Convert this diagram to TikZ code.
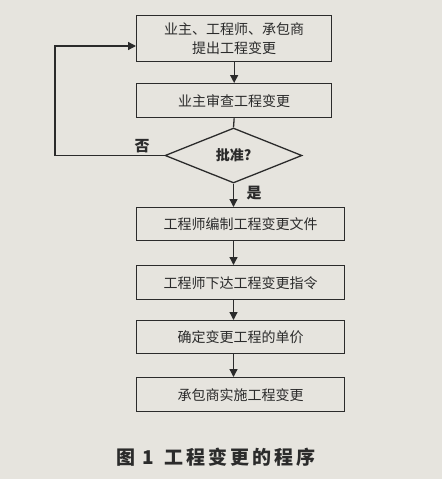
\documentclass[tikz,border=0pt]{standalone}
\usepackage{fontspec}
\newfontfamily\cjk{Noto Sans CJK SC}
\newfontfamily\cjkcap[LetterSpace=16]{Noto Sans CJK SC}
\usetikzlibrary{arrows.meta,shapes.geometric}
\definecolor{paper}{HTML}{E6E4DE}
\definecolor{ink}{HTML}{2B2B2B}
\tikzset{
  stepbox/.style={draw=ink,line width=1.3pt,fill=paper,anchor=north west,inner sep=0pt,align=center,font=\cjk\fontsize{14}{19}\selectfont,text=ink},
  flow/.style={draw=ink,line width=1.3pt,-{Triangle[length=8pt,width=8pt]}},
  lbl/.style={font=\cjk\bfseries\fontsize{15}{17}\selectfont,text=ink}
}
\begin{document}
\begin{tikzpicture}[x=1pt,y=-1pt]
\useasboundingbox[fill=paper] (0,0) rectangle (442,479);
\node[stepbox,minimum width=195pt,minimum height=46pt] (b1) at (136,15) {业主、工程师、承包商\\提出工程变更};
\node[stepbox,minimum width=195pt,minimum height=34pt] (b2) at (136,83) {业主审查工程变更};
\node[draw=ink,line width=1.3pt,fill=paper,diamond,aspect=2.5,minimum width=137pt,minimum height=55pt,inner sep=0pt,font=\cjk\bfseries\fontsize{14}{16}\selectfont,text=ink] (d) at (233.5,155.5) {批准?};
\node[stepbox,minimum width=208pt,minimum height=33pt] (b3) at (136,207) {工程师编制工程变更文件};
\node[stepbox,minimum width=208pt,minimum height=34pt] (b4) at (136,265) {工程师下达工程变更指令};
\node[stepbox,minimum width=208pt,minimum height=33pt] (b5) at (136,320) {确定变更工程的单价};
\node[stepbox,minimum width=208pt,minimum height=34pt] (b6) at (136,377) {承包商实施工程变更};
\draw[flow] (b1.south) -- (b2.north);
\draw[draw=ink,line width=1.3pt] (b2.south) -- (d.north);
\draw[flow] (d.south) -- (d.south |- b3.north);
\draw[flow] (b3.south -| d.south) -- (d.south |- b4.north);
\draw[flow] (b4.south -| d.south) -- (d.south |- b5.north);
\draw[flow] (b5.south -| d.south) -- (d.south |- b6.north);
\coordinate (c1) at (55,155.5);
\coordinate (c2) at (55,46);
\draw[flow] (d.west) -- (c1) -- (c2) -- (b1.west |- c2);
\node[lbl] (no) at (142,146) {否};
\node[lbl] (yes) at (254,193) {是};
\node[font=\cjkcap\bfseries\fontsize{19}{22}\selectfont,text=ink] (cap) at (216,457) {图 1\hspace{10pt}工程变更的程序};
\end{tikzpicture}
\end{document}
